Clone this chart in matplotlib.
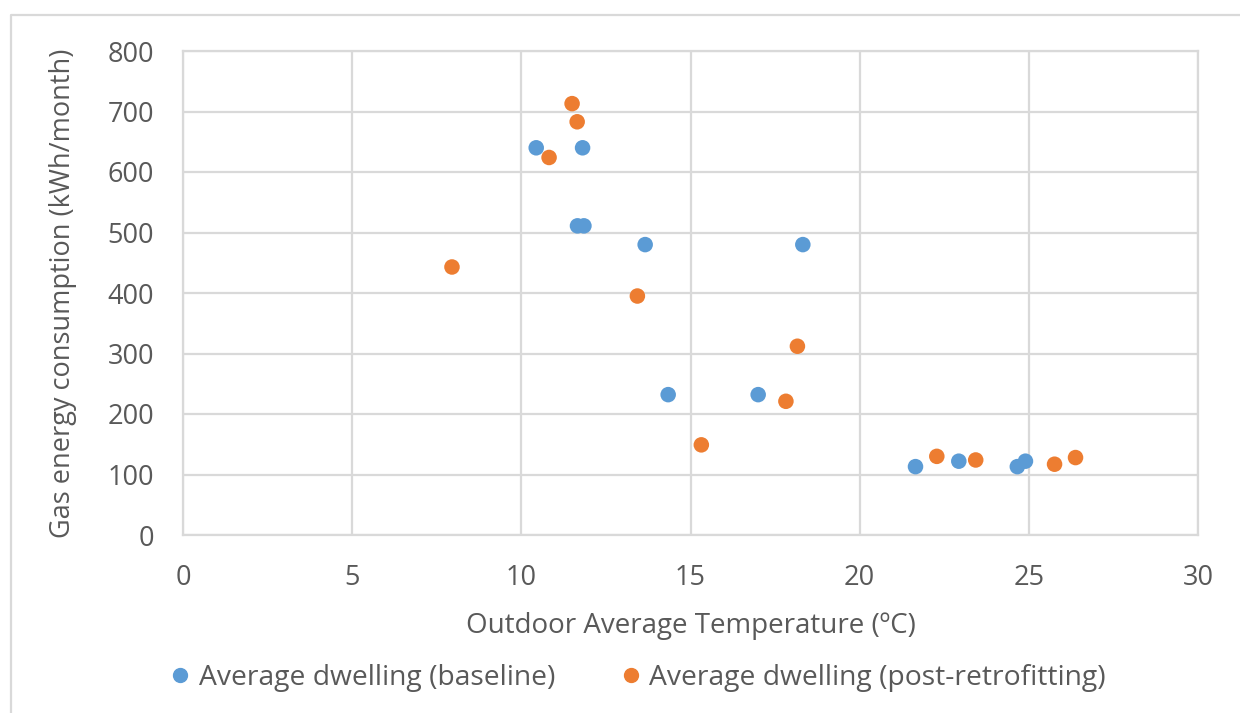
import matplotlib
matplotlib.use("Agg")
import matplotlib.pyplot as plt
from matplotlib.lines import Line2D

# Monthly outdoor temperature (ºC) vs gas consumption (kWh/month)
baseline_temp = [10.44, 11.81, 11.66, 11.85, 13.66, 18.32, 14.34, 17.00, 21.65, 22.93, 24.66, 24.90]
baseline_gas = [640, 640, 511, 511, 480, 480, 232, 232, 113, 122, 113, 122]

retrofit_temp = [11.50, 11.65, 10.82, 7.95, 13.43, 18.16, 17.82, 15.32, 22.28, 23.43, 25.76, 26.38]
retrofit_gas = [713, 683, 624, 443, 395, 312, 221, 149, 130, 124, 117, 128]

series_names = ["Average dwelling (baseline)", "Average dwelling (post-retrofitting)"]
x_ticks = [0, 5, 10, 15, 20, 25, 30]
y_ticks = [0, 100, 200, 300, 400, 500, 600, 700, 800]

BLUE = "#5B9BD5"
ORANGE = "#ED7D31"
GRID = "#D9D9D9"
TEXT = "#595959"
FS = 19.5

plt.rcParams["font.family"] = ["Open Sans", "DejaVu Sans"]

W, H = 1240, 713
fig = plt.figure(figsize=(W / 100, H / 100), dpi=100)

# outer chart frame (left and top edges)
fig.add_artist(Line2D([11 / W, 11 / W, 1.0], [0.0, 1 - 15 / H, 1 - 15 / H],
                      transform=fig.transFigure, color=GRID, lw=1.6))

ax = fig.add_axes([183 / W, 1 - 535 / H, (1198 - 183) / W, (535 - 51) / H])
ax.scatter(baseline_temp, baseline_gas, s=125, color=BLUE, edgecolors="none", zorder=3)
ax.scatter(retrofit_temp, retrofit_gas, s=125, color=ORANGE, edgecolors="none", zorder=3)

ax.set_xlim(0, 30)
ax.set_ylim(0, 800)
ax.set_xticks(x_ticks)
ax.set_yticks(y_ticks)
ax.grid(True, color=GRID, lw=1.6, zorder=0)
ax.set_axisbelow(True)
for sp in ax.spines.values():
    sp.set_color(GRID)
    sp.set_linewidth(1.6)
ax.tick_params(length=0, labelsize=FS, labelcolor=TEXT)
ax.tick_params(axis="x", pad=21)
ax.tick_params(axis="y", pad=21)

ax.set_xlabel("Outdoor Average Temperature (ºC)", fontsize=20, color=TEXT, labelpad=14)
ax.set_ylabel("Gas energy consumption (kWh/month)", fontsize=FS, color=TEXT, labelpad=22)

handles = [Line2D([], [], ls="none", marker="o", ms=10, color=BLUE),
           Line2D([], [], ls="none", marker="o", ms=10, color=ORANGE)]
fig.legend(handles, series_names, loc="center", bbox_to_anchor=(0.513, 1 - 678 / H),
           ncol=2, frameon=False, fontsize=20.3, labelcolor=TEXT,
           handletextpad=0.15, columnspacing=2.2, handlelength=1.0)

fig.savefig("out.png", dpi=100)
